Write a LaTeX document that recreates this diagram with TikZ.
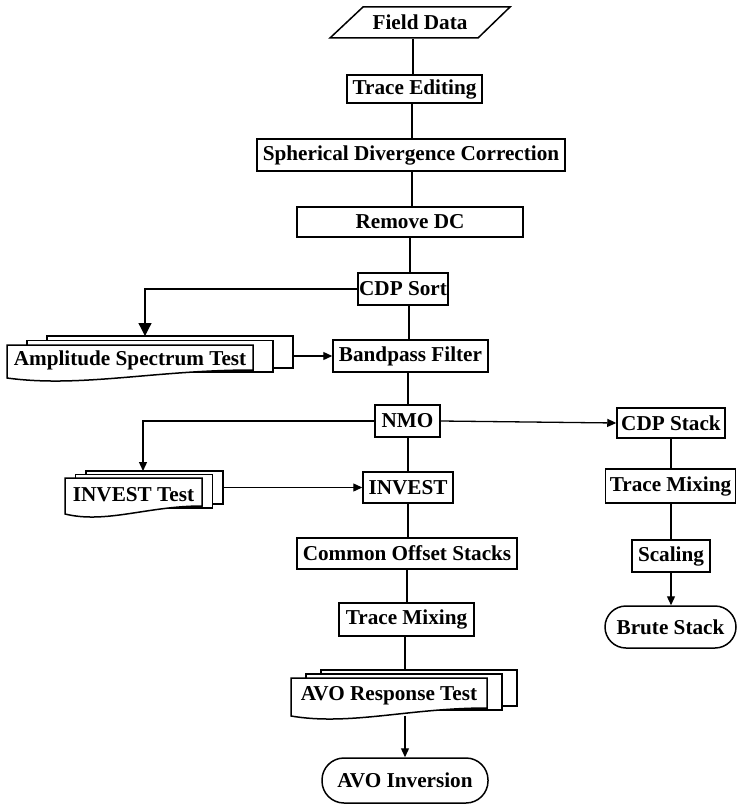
\documentclass[tikz,border=0pt]{standalone}
\usepackage{fontspec}
\setmainfont{Liberation Serif}
\usetikzlibrary{arrows.meta}
\newcommand{\mdoc}[8]{%
 \draw[shapeline, fill=white] ({#2+2*#6},{#3-2*#7}) rectangle ({#4+2*#6},{#5-2});
 \draw[shapeline, fill=white] ({#2+#6},{#3-#7}) rectangle ({#4+#6},{#5+2});
 \draw[shapeline, fill=white] (#2,#3) -- (#4,#3) -- (#4,#5) .. controls ({#4-0.4*(#4-#2)},{#5}) and ({#2+0.3*(#4-#2)},{#5+18}) .. (#2,{#5+8}) -- cycle;
 \node[minimum width={(#4-#2)*1pt}, minimum height={(#5+8-#3)*1pt}] (#1) at ({(#2+#4)/2},{(#3+#5+6)/2}) {#8};
}
\begin{document}
\begin{tikzpicture}[x=1pt,y=-1pt, line width=1.3pt,
  every node/.style={font=\fontsize{21.2}{24}\selectfont\bfseries, inner sep=0pt},
  shapeline/.style={line width=1.5pt},
  box/.style={draw, fill=white, shapeline},
  stadium/.style={draw, fill=white, shapeline},
  arr/.style={-{Triangle[length=9pt,width=8pt]}},
  bigarr/.style={-{Triangle[length=13pt,width=13pt]}}]
\useasboundingbox (0,0) rectangle (737,805);

% Field Data (parallelogram)
\draw[shapeline] (330,38) -- (363,7) -- (510,7) -- (478,38) -- cycle;
\node[minimum height=31pt] (field) at (420,22.5) {Field Data};

\node[box, minimum width=135pt, minimum height=28pt] (trace) at (414.5,89) {Trace Editing};
\node[box, minimum width=308pt, minimum height=32pt] (sph) at (411,155) {Spherical Divergence Correction};
\node[box, minimum width=226pt, minimum height=30pt] (rdc) at (410,222) {Remove DC};
\node[box, minimum width=90pt, minimum height=32pt] (cdp) at (403,289) {CDP Sort};
\node[box, minimum width=155pt, minimum height=32pt] (bp) at (410.5,356) {Bandpass Filter};
\node[box, minimum width=65pt, minimum height=32pt] (nmo) at (407.5,421) {NMO};
\node[box, minimum width=108pt, minimum height=30pt] (cdps) at (671,423) {CDP Stack};
\node[box, minimum width=90pt, minimum height=31pt] (inv) at (408,487.5) {INVEST};
\node[box, minimum width=220pt, minimum height=31pt] (cos) at (407,553.5) {Common Offset Stacks};
\node[box, minimum width=135pt, minimum height=33pt] (tm1) at (406.5,619.5) {Trace Mixing};
\node[box, minimum width=130pt, minimum height=34pt] (tm2) at (670.5,486) {Trace Mixing};
\node[box, minimum width=78pt, minimum height=32pt] (scal) at (671,556) {Scaling};
\node[stadium, rounded corners=21pt, minimum width=131pt, minimum height=42pt] (brute) at (670.5,627) {Brute Stack};
\node[stadium, rounded corners=22pt, minimum width=166pt, minimum height=45pt] (avoi) at (405,780.5) {AVO Inversion};

% multi-document shapes
\mdoc{amp}{7}{345}{253}{370}{20}{4.5}{Amplitude Spectrum Test}
\mdoc{invt}{65}{478}{202}{506}{10.5}{3.5}{INVEST Test}
\mdoc{avo}{291}{678}{487}{708}{15}{4}{AVO Response Test}

\coordinate (ampin) at (145,336);
\coordinate (ampout) at (293,356);
\coordinate (invtin) at (143,471);
\coordinate (invtout) at (223,487.5);
\coordinate (avoin) at (405,670);

% connectors
\draw (413,0 |- trace.north) -- (413,0 |- field.south);
\draw (412,0 |- trace.south) -- (412,0 |- sph.north);
\draw (412,0 |- sph.south) -- (412,0 |- rdc.north);
\draw (rdc.south) -- (rdc.south |- cdp.north);
\draw (409,0 |- cdp.south) -- (409,0 |- bp.north);
\draw[bigarr] (cdp.west) -| (ampin);
\draw[arr] (ampout) -- (bp.west);
\draw (408,0 |- bp.south) -- (408,0 |- nmo.north);
\draw[arr] (nmo.west) -| (invtin);
\draw[arr] (nmo.east) -- (cdps.west);
\draw (inv.north) -- (inv.north |- nmo.south);
\draw[arr] (invtout) -- (inv.west);
\draw (inv.south) -- (inv.south |- cos.north);
\draw (407,0 |- cos.south) -- (407,0 |- tm1.north);
\draw (avoin |- tm1.south) -- (avoin);
\draw[arr] (avoi.north |- avo.south) -- (avoi.north);
\draw (671,0 |- cdps.south) -- (671,0 |- tm2.north);
\draw (671,0 |- tm2.south) -- (671,0 |- scal.north);
\draw[arr] (scal.south) -- (scal.south |- brute.north);
\end{tikzpicture}
\end{document}
